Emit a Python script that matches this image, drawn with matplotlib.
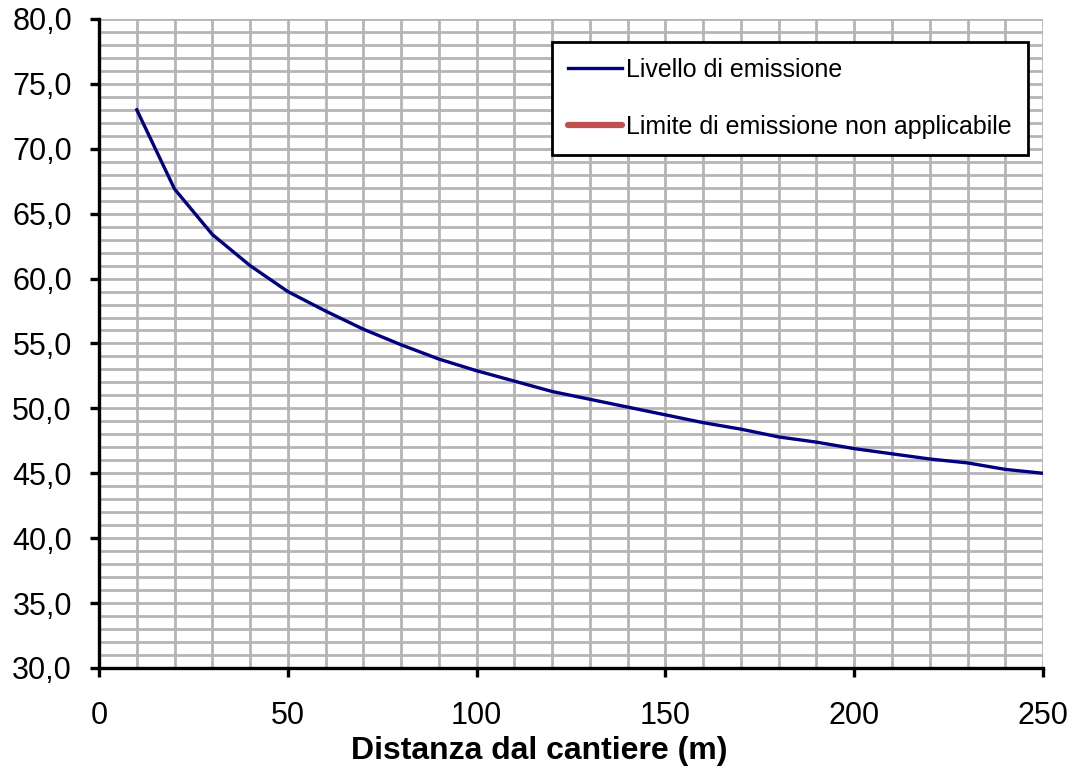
import numpy as np
import matplotlib.pyplot as plt
from matplotlib.ticker import MultipleLocator, FuncFormatter

plt.rcParams['font.family'] = ['Liberation Sans', 'DejaVu Sans']

# distance from the site (m) and emission level (dB)
distanza = [10, 20, 30, 40, 50, 60, 70, 80, 90, 100, 110, 120, 130,
            140, 150, 160, 170, 180, 190, 200, 210, 220, 230, 240, 250]
livello = [73.0, 66.9, 63.4, 61.0, 59.0, 57.5, 56.1, 54.9, 53.8, 52.9,
           52.1, 51.3, 50.7, 50.1, 49.5, 48.9, 48.4, 47.8, 47.4, 46.9,
           46.5, 46.1, 45.8, 45.3, 45.0]
# limit not applicable: empty series, shown only in the legend
limite_x = []
limite_y = []

fig = plt.figure(figsize=(10.81, 7.71), dpi=100)
ax = fig.add_axes([0.0916, 0.1336, 0.8733, 0.8418])

ax.plot(distanza, livello, color='#000080', linewidth=2.4, label='Livello di emissione', zorder=3)
ax.plot(limite_x, limite_y, color='#c0504d', linewidth=4.5, label='Limite di emissione non applicabile',
        solid_capstyle='round')

ax.set_xlim(0, 250)
ax.set_ylim(30, 80)
ax.xaxis.set_major_locator(MultipleLocator(50))
ax.xaxis.set_minor_locator(MultipleLocator(10))
ax.yaxis.set_major_locator(MultipleLocator(5))
ax.yaxis.set_minor_locator(MultipleLocator(1))
ax.yaxis.set_major_formatter(FuncFormatter(lambda v, p: f"{v:.1f}".replace('.', ',')))

ax.grid(True, which='both', color='#b5b5b5', linewidth=2.0, zorder=0)
ax.set_axisbelow(True)

for s in ['top', 'right']:
    ax.spines[s].set_visible(False)
for s in ['left', 'bottom']:
    ax.spines[s].set_linewidth(2.4)
    ax.spines[s].set_zorder(4)

ax.tick_params(which='major', direction='out', length=6.5, width=2.4, labelsize=22, color='black')
ax.tick_params(axis='x', which='major', pad=17)
ax.tick_params(axis='y', which='major', pad=13)
ax.tick_params(which='minor', length=0)

ax.set_xlabel('Distanza dal cantiere (m)', fontsize=23, fontweight='bold')
ax.xaxis.set_label_coords(0.466, -0.128, transform=ax.transAxes)
ax.xaxis.label.set_va('center')

leg = ax.legend(loc='upper left', bbox_to_anchor=(0.48, 0.9646), fontsize=18, frameon=True,
                fancybox=False, framealpha=1, edgecolor='black', handlelength=2.15,
                handletextpad=0.15, borderpad=0.65, labelspacing=1.3, borderaxespad=0)
leg.get_frame().set_linewidth(2)
leg.set_zorder(5)

fig.savefig('out.png', dpi=100)
